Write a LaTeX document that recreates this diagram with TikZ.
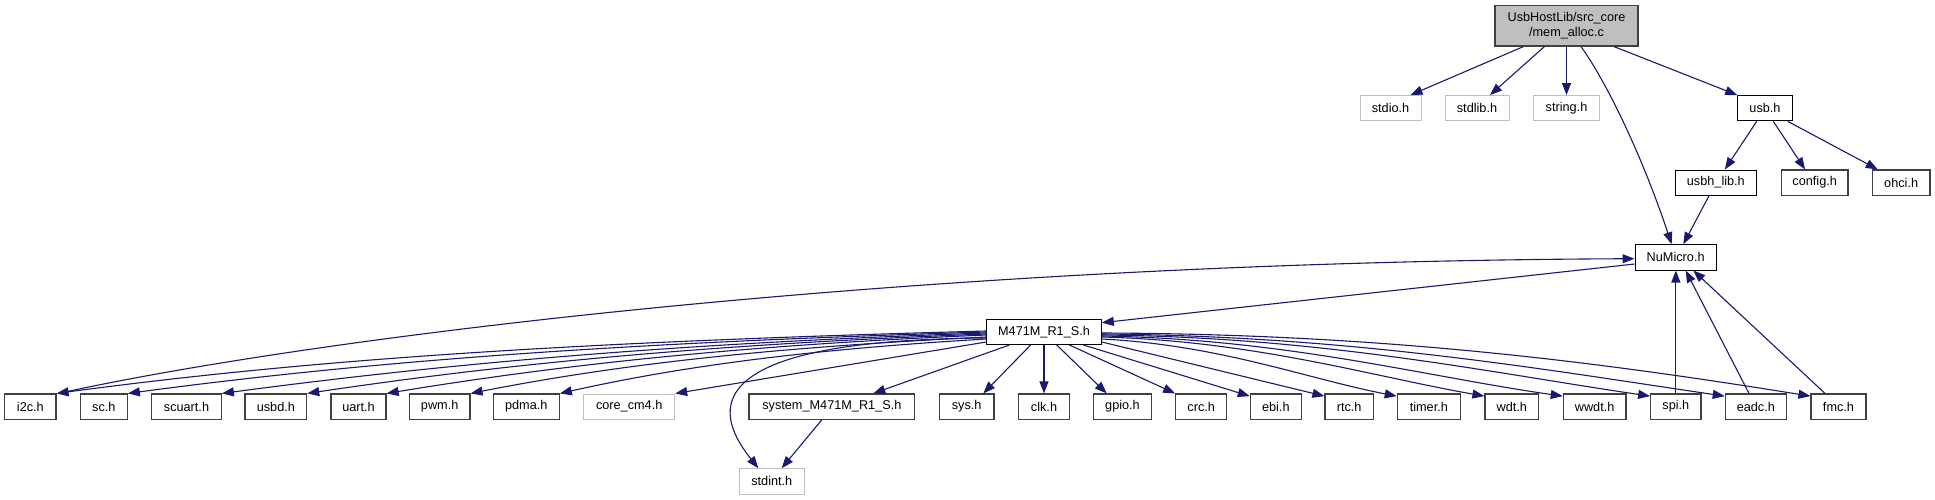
\documentclass[tikz,border=0pt]{standalone}
\usepackage{fontspec}
\setmainfont{Liberation Sans}
\usetikzlibrary{arrows.meta,calc}
\definecolor{edgeblue}{RGB}{25,25,112}
\definecolor{lgray}{RGB}{191,191,191}
\definecolor{dgray}{RGB}{64,64,64}
\begin{document}
\begin{tikzpicture}[x=1pt,y=-1pt,
  every node/.style={font=\fontsize{12.7}{15}\selectfont},
  nbox/.style={draw, rectangle, inner sep=0pt, minimum height=25.3pt, fill=white, text=black},
  docb/.style={nbox, draw=dgray, line width=1.15pt},
  blkb/.style={nbox, draw=black, line width=1pt},
  undoc/.style={nbox, draw=lgray, line width=1pt},
  membox/.style={nbox, draw=dgray, fill=lgray, line width=1.2pt, align=center, minimum height=40.3pt},
  dep/.style={draw=edgeblue, line width=1.1pt, -{Triangle[length=12pt,width=9pt]}}]
\useasboundingbox (0,0) rectangle (1935,500);
\fill[white] (0,0) rectangle (1935,500);

% top part
\node[membox, minimum width=143pt] (mem) at (1566.5,25.85) {UsbHostLib/src\_core\\/mem\_alloc.c};
\node[undoc, minimum width=61pt] (stdio) at (1390.5,108.2) {stdio.h};
\node[undoc, minimum width=64pt] (stdlib) at (1477,108.2) {stdlib.h};
\node[undoc, minimum width=65.6pt] (string) at (1566.5,108.2) {string.h};
\node[blkb, minimum width=54.6pt] (usb) at (1765,108.2) {usb.h};
\node[blkb, minimum width=81.7pt] (usbhlib) at (1715.85,182.65) {usbh\_lib.h};
\node[docb, minimum width=66.7pt] (config) at (1814.65,182.65) {config.h};
\node[docb, minimum width=57.7pt] (ohci) at (1901.15,182.65) {ohci.h};
\node[blkb, minimum width=81.3pt] (numicro) at (1675.65,257.35) {NuMicro.h};
\node[blkb, minimum width=114.6pt] (m471) at (1044,331.8) {M471M\_R1\_S.h};

% bottom row
\node[docb, minimum width=51.3pt] (i2c) at (30.35,406.65) {i2c.h};
\node[docb, minimum width=47pt] (sc) at (103.8,406.65) {sc.h};
\node[docb, minimum width=69.6pt] (scuart) at (186.5,406.65) {scuart.h};
\node[docb, minimum width=61.7pt] (usbd) at (275.85,406.65) {usbd.h};
\node[docb, minimum width=55pt] (uart) at (358.5,406.65) {uart.h};
\node[docb, minimum width=60.7pt] (pwm) at (439.65,406.65) {pwm.h};
\node[docb, minimum width=66pt] (pdma) at (526.3,406.65) {pdma.h};
\node[undoc, minimum width=91pt] (core) at (629.2,406.65) {core\_cm4.h};
\node[docb, minimum width=165.7pt] (sysm) at (831.85,406.65) {system\_M471M\_R1\_S.h};
\node[docb, minimum width=54.7pt] (sys) at (966.65,406.65) {sys.h};
\node[docb, minimum width=50.6pt] (clk) at (1044,406.65) {clk.h};
\node[docb, minimum width=57.6pt] (gpio) at (1122.5,406.65) {gpio.h};
\node[docb, minimum width=51pt] (crc) at (1201.2,406.65) {crc.h};
\node[docb, minimum width=51pt] (ebi) at (1275.8,406.65) {ebi.h};
\node[docb, minimum width=48.3pt] (rtc) at (1349.15,406.65) {rtc.h};
\node[docb, minimum width=63pt] (timer) at (1428.8,406.65) {timer.h};
\node[docb, minimum width=53.7pt] (wdt) at (1511.85,406.65) {wdt.h};
\node[docb, minimum width=62.7pt] (wwdt) at (1594.65,406.65) {wwdt.h};
\node[docb, minimum width=50.3pt] (spi) at (1675.85,406.65) {spi.h};
\node[docb, minimum width=61pt] (eadc) at (1755.8,406.65) {eadc.h};
\node[docb, minimum width=55pt] (fmc) at (1838.5,406.65) {fmc.h};
\node[undoc, minimum width=65pt] (stdint) at (771.8,481.35) {stdint.h};

% mem_alloc.c
\draw[dep] ($(mem.south west)+(29,0)$) -- ($(stdio.north east)+(-11,0)$);
\draw[dep] ($(mem.south west)+(50,0)$) -- ($(stdlib.north)+(13,0)$);
\draw[dep] (mem.south) -- (string.north);
\draw[dep] ($(mem.south)+(14.5,0)$) .. controls (1605,80) and (1640,150) .. ($(numicro.north)+(-4,0)$);
\draw[dep] ($(mem.south)+(47.5,0)$) -- (usb.north west);

% usb.h
\draw[dep] ($(usb.south)+(-8.3,0)$) -- ($(usbhlib.north)+(9,0)$);
\draw[dep] ($(usb.south)+(8.3,0)$) -- ($(config.north)+(-9.6,0)$);
\draw[dep] ($(usb.south)+(22.7,0)$) -- ($(ohci.north west)+(6,0)$);
\draw[dep] ($(usbhlib.south)+(-6.85,0)$) -- ($(numicro.north)+(7.65,0)$);

% NuMicro.h
\draw[dep] ($(numicro.west)+(0,6.65)$) -- ($(m471.east)+(0,-9.1)$);
\draw[dep] ($(i2c.north east)+(2,0)$) .. controls (300,340) and (900,262) .. ($(numicro.west)+(0,1.35)$);
\draw[dep] (spi.north) -- (spi.north |- numicro.south);
\draw[dep] ($(eadc.north)+(-6.8,0)$) -- ($(numicro.south)+(10,0)$);
\draw[dep] ($(fmc.north)+(-13.5,0)$) -- ($(numicro.south)+(17.65,0)$);

% M471M_R1_S.h, to the left
\draw[dep] ($(m471.west)+(0,-0.8)$) .. controls (614,341) and (335,356) .. (i2c.north east);
\draw[dep] ($(m471.west)+(0,0.2)$) .. controls (643,342) and (385,359) .. (sc.north east);
\draw[dep] ($(m471.west)+(0,1.2)$) .. controls (681,343) and (451,363) .. (scuart.north east);
\draw[dep] ($(m471.west)+(0,2.2)$) .. controls (715,344) and (511,363) .. (usbd.north east);
\draw[dep] ($(m471.west)+(0,3.2)$) .. controls (746,345) and (566,364) .. (uart.north east);
\draw[dep] ($(m471.west)+(0,5.2)$) .. controls (780,347) and (625,363) .. (pwm.north east);
\draw[dep] ($(m471.west)+(0,7.2)$) .. controls (816,349) and (687,365) .. (pdma.north east);
\draw[dep] ($(m471.west)+(0,10.2)$) -- (core.north east);
\draw[dep] ($(m471.west)+(0,6.2)$) .. controls (680,340) and (720,420) .. ($(stdint.north)+(-13.5,0)$);
\draw[dep] ($(m471.south west)+(23.3,0)$) -- ($(sysm.north)+(41.45,0)$);
\draw[dep] ($(sysm.south)+(-10.15,0)$) -- ($(stdint.north)+(9.9,0)$);

% M471M_R1_S.h, below
\draw[dep] ($(m471.south)+(-13.3,0)$) -- ($(sys.north)+(16.65,0)$);
\draw[dep] (m471.south) -- (clk.north);
\draw[dep] ($(m471.south)+(12.7,0)$) -- ($(gpio.north)+(-15.8,0)$);
\draw[dep] ($(m471.south)+(25.3,0)$) -- (crc.north west);
\draw[dep] ($(m471.south)+(39.3,0)$) -- ($(ebi.north west)+(0,2.7)$);

% M471M_R1_S.h, to the right
\draw[dep] ($(m471.east)+(0,10.2)$) -- ($(rtc.north west)+(0,2.7)$);
\draw[dep] ($(m471.east)+(0,7.2)$) .. controls (1220,345) and (1308,379) .. ($(timer.north west)+(0,2.7)$);
\draw[dep] ($(m471.east)+(0,5.2)$) .. controls (1255,341) and (1370,376) .. ($(wdt.north west)+(0,2.7)$);
\draw[dep] ($(m471.east)+(0,4.2)$) .. controls (1286,339) and (1424,376.4) .. ($(wwdt.north west)+(0,2.7)$);
\draw[dep] ($(m471.east)+(0,3.2)$) .. controls (1321,337) and (1486,372) .. ($(spi.north west)+(0,2.7)$);
\draw[dep] ($(m471.east)+(0,2.2)$) .. controls (1351,336) and (1538,368.6) .. ($(eadc.north west)+(0,2.7)$);
\draw[dep] ($(m471.east)+(0,1.2)$) .. controls (1385,334) and (1598,362) .. ($(fmc.north west)+(0,2.7)$);
\end{tikzpicture}
\end{document}
